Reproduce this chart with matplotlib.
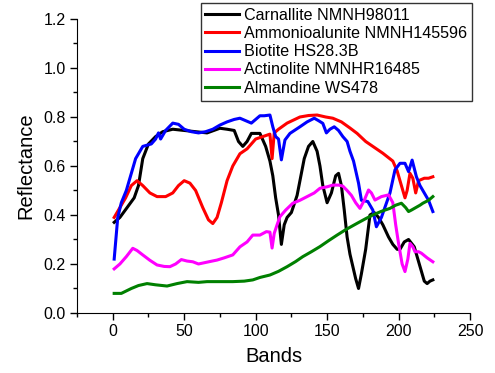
import numpy as np
import matplotlib
matplotlib.use('Agg')
import matplotlib.pyplot as plt
from matplotlib.ticker import MultipleLocator

plt.rcParams['font.family'] = ['Liberation Sans', 'DejaVu Sans']

# Carnallite NMNH98011
carn_b = [1, 5, 10, 15, 18, 21, 25, 30, 35, 42, 50, 58, 66, 75, 80, 85, 88, 91, 94, 97,
          103, 107, 110, 112, 114, 116, 118, 120, 122, 125, 129, 134, 137, 140, 143, 145,
          147, 150, 153, 156, 158, 160, 162, 164, 166, 168, 170, 172, 174, 177, 180, 183,
          186, 189, 193, 196, 199, 201, 204, 207, 211, 214, 216, 218, 220, 222, 224]
carn_v = [0.37, 0.39, 0.43, 0.47, 0.52, 0.63, 0.69, 0.72, 0.74, 0.75, 0.745, 0.74, 0.735, 0.754, 0.75, 0.745, 0.70, 0.68, 0.70, 0.733,
          0.733, 0.68, 0.62, 0.56, 0.47, 0.40, 0.28, 0.36, 0.39, 0.41, 0.48, 0.63, 0.68, 0.70, 0.66, 0.60,
          0.52, 0.45, 0.49, 0.56, 0.57, 0.52, 0.42, 0.31, 0.24, 0.19, 0.14, 0.10, 0.16, 0.26, 0.40, 0.41,
          0.39, 0.36, 0.31, 0.28, 0.26, 0.26, 0.29, 0.30, 0.27, 0.21, 0.17, 0.13, 0.12, 0.13, 0.135]

# Ammonioalunite NMNH145596
ammo_b = [1, 5, 9, 13, 17, 21, 26, 31, 37, 42, 46, 50, 54, 58, 63, 67, 70, 73, 76, 80, 84, 89, 94,
          100, 105, 110, 111.5, 113, 116, 122, 131, 137, 143, 149, 154, 160, 166, 171, 177, 182,
          189, 196, 199, 202, 204.5, 206, 208, 210, 212, 214, 218, 221, 224]
ammo_v = [0.39, 0.43, 0.47, 0.52, 0.54, 0.52, 0.49, 0.475, 0.475, 0.49, 0.52, 0.54, 0.53, 0.50, 0.43, 0.38, 0.365, 0.39, 0.45, 0.54, 0.60, 0.65, 0.67,
          0.71, 0.72, 0.73, 0.63, 0.735, 0.75, 0.775, 0.80, 0.806, 0.808, 0.80, 0.795, 0.78, 0.755, 0.733, 0.70, 0.68,
          0.652, 0.62, 0.58, 0.52, 0.47, 0.50, 0.57, 0.55, 0.49, 0.54, 0.55, 0.55, 0.556]

# Biotite HS28.3B
biot_b = [1, 3.5, 6, 9.5, 13, 16, 21, 27, 30, 32, 33.5, 37, 42, 46, 50, 55, 60, 65, 70, 75, 80, 85, 89,
          93, 97, 100, 103, 106, 110, 112, 114, 116, 118, 120.5, 124, 131, 136, 141, 144, 147, 149.5,
          152, 155, 158, 161, 164, 166, 168.5, 172, 174, 178.5, 182, 184.5, 188, 191, 194, 197.5,
          201, 204.5, 207, 209.5, 212.5, 215, 217.5, 221, 224]
biot_v = [0.22, 0.39, 0.45, 0.50, 0.57, 0.63, 0.68, 0.69, 0.71, 0.735, 0.71, 0.745, 0.775, 0.77, 0.75, 0.74, 0.735, 0.74, 0.75, 0.767, 0.78, 0.79, 0.795,
          0.785, 0.775, 0.79, 0.805, 0.805, 0.808, 0.76, 0.72, 0.71, 0.625, 0.706, 0.733, 0.76, 0.78, 0.795, 0.785, 0.774, 0.735,
          0.75, 0.76, 0.745, 0.72, 0.70, 0.66, 0.62, 0.53, 0.46, 0.455, 0.42, 0.352, 0.39, 0.44, 0.49, 0.584,
          0.611, 0.611, 0.577, 0.624, 0.556, 0.52, 0.495, 0.46, 0.414]

# Actinolite NMNHR16485
acti_b = [1, 5, 9.5, 14, 17, 21, 26, 31, 36, 40, 44, 48, 52, 56, 60, 64, 68, 73, 78, 84, 89, 94,
          98, 103, 107.5, 110, 111.5, 113, 115, 117, 121, 126, 131, 136, 141, 145, 150, 154, 158,
          161, 164, 167, 170, 173, 176, 179, 181, 183.5, 188, 193, 196, 198, 200, 202.5, 204.5,
          206.5, 208, 210, 211.5, 214, 216, 220, 224]
acti_v = [0.18, 0.20, 0.23, 0.264, 0.255, 0.237, 0.215, 0.196, 0.19, 0.189, 0.20, 0.218, 0.212, 0.209, 0.20, 0.205, 0.21, 0.216, 0.225, 0.237, 0.27, 0.29,
          0.318, 0.318, 0.332, 0.33, 0.265, 0.325, 0.36, 0.393, 0.42, 0.448, 0.46, 0.475, 0.49, 0.509, 0.515, 0.522, 0.522,
          0.518, 0.50, 0.48, 0.45, 0.427, 0.46, 0.502, 0.49, 0.461, 0.475, 0.482, 0.45, 0.36, 0.284, 0.20, 0.169,
          0.22, 0.284, 0.27, 0.25, 0.25, 0.244, 0.225, 0.209]

# Almandine WS478
alma_b = [1, 6, 13, 18, 24, 30, 38, 45, 52, 60, 66, 75, 84, 92, 98, 103, 110, 116, 122, 128, 133, 139,
          145, 151, 157, 163, 171, 177, 182, 188, 194, 198, 202, 205, 207, 209, 212, 215, 217, 221, 224]
alma_v = [0.08, 0.08, 0.10, 0.112, 0.12, 0.115, 0.11, 0.12, 0.128, 0.125, 0.128, 0.128, 0.128, 0.13, 0.135, 0.145, 0.155, 0.17, 0.189, 0.21, 0.23, 0.25,
          0.271, 0.295, 0.318, 0.34, 0.366, 0.385, 0.40, 0.415, 0.427, 0.44, 0.448, 0.43, 0.414, 0.42, 0.43, 0.44, 0.448, 0.46, 0.475]

series = [
    (carn_b, carn_v, 'black', 'Carnallite NMNH98011'),
    (ammo_b, ammo_v, '#ff0000', 'Ammonioalunite NMNH145596'),
    (biot_b, biot_v, '#0000ff', 'Biotite HS28.3B'),
    (acti_b, acti_v, '#ff00ff', 'Actinolite NMNHR16485'),
    (alma_b, alma_v, '#008000', 'Almandine WS478'),
]

fig = plt.figure(figsize=(4.95, 3.73), dpi=100)
ax = fig.add_axes([0.1556, 0.1609, 0.7939, 0.7882])
for b, v, c, lab in series:
    ax.plot(b, v, color=c, lw=2.2, label=lab)

ax.set_xlim(-25, 250)
ax.set_ylim(0, 1.2)
ax.xaxis.set_minor_locator(MultipleLocator(25))
ax.yaxis.set_minor_locator(MultipleLocator(0.1))
ax.set_yticks(np.arange(0, 1.21, 0.2))
ax.set_yticklabels(['%.1f' % t for t in np.arange(0, 1.21, 0.2)])
ax.set_xticks([0, 50, 100, 150, 200, 250])
ax.tick_params(which='major', direction='out', length=5, width=1, labelsize=11.5, pad=3)
ax.tick_params(which='minor', direction='out', length=3, width=1)
for s in ['top', 'right']:
    ax.spines[s].set_visible(False)
ax.set_xlabel('Bands', fontsize=14.5, labelpad=6)
ax.set_ylabel('Reflectance', fontsize=14.5, labelpad=6)

leg = ax.legend(loc='upper right', bbox_to_anchor=(472 / 495, 1 - 3 / 373),
                bbox_transform=fig.transFigure, borderaxespad=0, fontsize=11.6,
                fancybox=False, framealpha=1, edgecolor='#333333',
                handlelength=2.1, handletextpad=0.3, labelspacing=0.2,
                borderpad=0.3)
leg.get_frame().set_linewidth(1.0)

fig.savefig('out.png', dpi=100)
